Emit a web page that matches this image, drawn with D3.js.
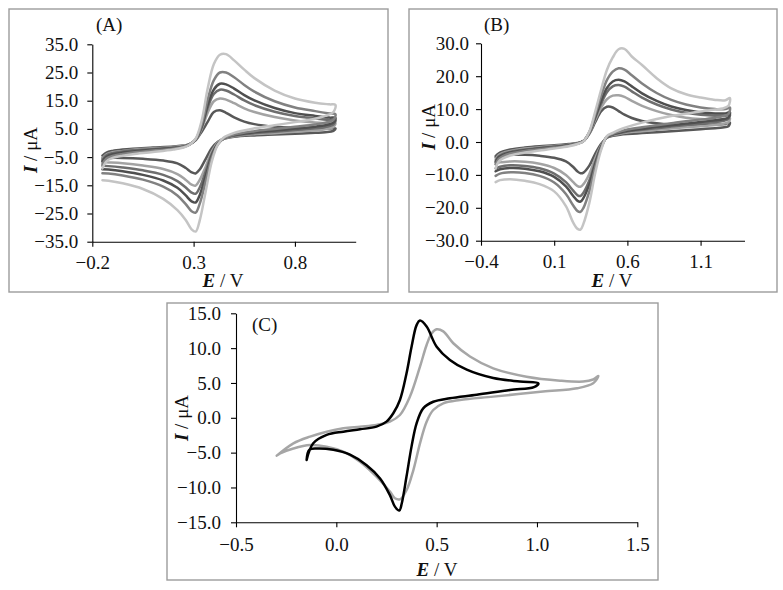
<!DOCTYPE html>
<html>
<head>
<meta charset="utf-8">
<script src="https://cdn.jsdelivr.net/npm/d3@7"></script>
<style>
  html, body { margin: 0; padding: 0; background: #fff; }
  svg { display: block; }
  text { font-family: "Liberation Serif", "Times New Roman", serif; fill: #111; }
</style>
</head>
<body>
<svg id="chart" width="783" height="590"></svg>
<script>
// ---------------- Panel A data ----------------
const aXTicks = [-0.2, 0.3, 0.8];
const aYTicks = [-35, -25, -15, -5, 5, 15, 25, 35];
const aE = [-0.15,-0.13,-0.1,-0.05,0.0,0.1,0.2,0.25,0.28,0.31,0.34,0.37,0.4,0.43,0.46,0.5,0.55,0.6,0.7,0.8,0.9,0.97,1.0,
            0.99,0.95,0.9,0.8,0.7,0.6,0.5,0.45,0.42,0.39,0.36,0.33,0.31,0.29,0.26,0.22,0.15,0.05,-0.05,-0.12,-0.15];
const aI1 = [-9.0,-6.5,-5.3,-4.5,-4.0,-3.2,-2.3,-1.6,-0.6,1.5,8.0,19.5,28.0,31.3,31.5,29.3,26.0,23.0,18.6,15.8,14.3,13.7,13.5,
             11.0,9.6,8.6,7.4,6.3,5.2,3.6,2.0,-0.5,-6.5,-17.0,-27.5,-31.4,-30.6,-27.2,-23.8,-19.8,-16.3,-14.3,-13.4,-13.2];
const aI2 = [-7.5,-5.5,-4.6,-3.9,-3.4,-2.7,-2.0,-1.4,-0.6,1.3,6.6,15.6,22.3,25.0,25.0,23.3,20.6,18.2,14.8,12.6,11.3,10.5,10.2,
             8.2,7.2,6.6,5.8,5.0,4.2,3.0,1.7,-0.5,-5.2,-13.5,-21.6,-24.7,-24.2,-21.6,-18.6,-15.5,-13.0,-11.5,-10.8,-10.7];
const aI3 = [-6.5,-4.9,-4.0,-3.4,-3.0,-2.4,-1.8,-1.3,-0.5,1.2,5.9,13.6,19.0,21.0,20.8,19.3,17.0,15.1,12.4,10.6,9.6,9.0,8.9,
             7.2,6.3,5.8,5.1,4.4,3.8,2.8,1.7,-0.3,-4.5,-11.6,-18.5,-21.1,-20.7,-18.5,-15.9,-13.3,-11.3,-10.0,-9.4,-9.3];
const aI4 = [-6.0,-4.4,-3.6,-3.0,-2.6,-2.1,-1.6,-1.2,-0.5,1.1,5.5,12.6,17.4,18.9,18.6,17.2,15.1,13.4,11.1,9.6,8.7,8.2,8.1,
             6.5,5.7,5.2,4.6,4.0,3.5,2.6,1.6,-0.1,-3.8,-10.0,-15.8,-18.0,-17.6,-15.7,-13.5,-11.3,-9.7,-8.7,-8.2,-8.1];
const aI5 = [-5.5,-4.0,-3.3,-2.8,-2.4,-1.9,-1.4,-1.0,-0.4,1.0,5.0,10.8,14.8,15.8,15.4,14.1,12.3,11.0,9.2,8.0,7.3,7.0,7.0,
             5.7,4.9,4.5,4.0,3.5,3.1,2.4,1.6,0.2,-3.0,-8.3,-13.1,-15.1,-14.8,-13.0,-11.0,-9.2,-8.0,-7.2,-6.9,-6.8];
const aI6 = [-4.5,-3.4,-2.8,-2.3,-2.0,-1.6,-1.2,-0.9,-0.4,1.0,4.0,7.6,11.0,11.6,10.7,9.1,7.6,6.7,5.8,5.4,5.2,5.1,5.2,
             4.3,3.8,3.6,3.3,3.0,2.7,2.2,1.5,0.4,-1.8,-5.6,-9.4,-10.8,-10.4,-8.8,-7.2,-6.2,-5.6,-5.3,-5.3,-5.4];

// ---------------- Panel B data ----------------
const bXTicks = [-0.4, 0.1, 0.6, 1.1];
const bYTicks = [-30, -20, -10, 0, 10, 20, 30];
const bE = [-0.3,-0.28,-0.25,-0.2,-0.1,0.0,0.1,0.2,0.26,0.3,0.34,0.38,0.42,0.46,0.5,0.54,0.58,0.63,0.7,0.8,0.9,1.0,1.1,1.2,1.27,1.3,
            1.29,1.25,1.2,1.1,1.0,0.9,0.8,0.7,0.6,0.55,0.5,0.46,0.42,0.38,0.34,0.3,0.28,0.26,0.23,0.18,0.1,0.0,-0.1,-0.2,-0.27,-0.3];
const bI1 = [-8.0,-6.0,-5.0,-4.1,-3.2,-2.6,-2.0,-1.3,-0.6,0.2,3.2,9.2,15.8,21.9,25.7,28.2,28.3,26.0,23.4,19.4,16.3,14.5,13.5,12.8,12.7,13.4,
             11.0,10.2,9.9,9.3,8.6,7.9,7.0,5.9,4.6,3.8,2.8,1.8,-2.5,-9.5,-18.5,-24.8,-26.6,-26.4,-24.5,-19.5,-15.0,-12.8,-11.8,-11.3,-11.6,-12.2];
const bI2 = [-6.8,-5.2,-4.3,-3.5,-2.7,-2.2,-1.7,-1.1,-0.5,0.3,3.0,8.3,14.0,18.8,21.4,22.4,22.0,20.3,17.8,14.9,12.8,11.4,10.5,10.0,10.0,10.5,
             8.5,7.8,7.4,6.8,6.3,5.7,5.1,4.5,3.8,3.2,2.5,1.6,-2.0,-7.8,-15.0,-20.0,-21.2,-21.0,-19.3,-15.8,-12.3,-10.3,-9.4,-9.2,-9.6,-10.3];
const bI3 = [-6.2,-4.7,-3.9,-3.2,-2.5,-2.0,-1.5,-1.0,-0.5,0.3,2.9,7.6,12.4,16.4,18.4,18.9,18.4,16.9,14.8,12.5,10.8,9.7,9.0,8.7,8.7,9.1,
             7.5,6.9,6.6,6.1,5.6,5.1,4.6,4.0,3.4,2.9,2.3,1.5,-1.6,-6.8,-12.9,-17.0,-18.1,-17.9,-16.4,-13.5,-10.6,-8.9,-8.1,-7.9,-8.3,-8.9];
const bI4 = [-5.8,-4.4,-3.6,-3.0,-2.3,-1.8,-1.4,-0.9,-0.4,0.3,2.8,7.3,11.6,15.1,16.9,17.3,16.8,15.4,13.5,11.4,9.9,8.9,8.3,8.0,8.0,8.4,
             7.0,6.4,6.1,5.6,5.2,4.7,4.2,3.7,3.2,2.7,2.2,1.5,-1.4,-6.2,-11.7,-15.4,-16.4,-16.2,-14.8,-12.2,-9.6,-8.0,-7.3,-7.1,-7.5,-8.0];
const bI5 = [-5.2,-4.0,-3.3,-2.7,-2.0,-1.6,-1.2,-0.8,-0.4,0.3,2.7,6.7,10.4,13.0,14.1,14.2,13.7,12.5,11.0,9.4,8.2,7.4,7.0,6.8,6.9,7.2,
             6.0,5.5,5.2,4.8,4.5,4.1,3.7,3.3,2.9,2.5,2.1,1.4,-1.1,-5.0,-9.7,-12.8,-13.6,-13.4,-12.2,-10.0,-7.9,-6.6,-6.0,-5.9,-6.2,-6.7];
const bI6 = [-4.3,-3.5,-2.9,-2.3,-1.7,-1.3,-1.0,-0.6,-0.3,0.3,2.5,6.0,9.3,10.7,10.5,9.4,8.3,7.3,6.4,5.7,5.3,5.1,5.1,5.3,5.5,5.9,
             4.8,4.4,4.2,3.9,3.6,3.3,3.0,2.7,2.4,2.2,1.9,1.3,-0.6,-3.6,-7.2,-9.3,-9.5,-9.0,-7.6,-5.9,-4.8,-4.2,-3.9,-3.9,-4.2,-4.6];

// gray shades of the six scan-rate curves (A and B)
const abColors = ["#c4c4c4", "#818181", "#4f4f4f", "#6e6e6e", "#a3a3a3", "#585858"];

// ---------------- Panel C data ----------------
const cXTicks = [-0.5, 0.0, 0.5, 1.0, 1.5];
const cYTicks = [-15, -10, -5, 0, 5, 10, 15];
const cBlackE = [-0.148,-0.115,-0.048,0.035,0.118,0.2,0.25,0.284,0.317,0.35,0.375,0.4,0.417,0.45,0.5,0.566,0.65,0.782,0.915,1.007,
                 0.985,0.865,0.7,0.566,0.483,0.433,0.4,0.375,0.35,0.326,0.314,0.292,0.267,0.218,0.151,0.068,-0.015,-0.098,-0.135,-0.148];
const cBlackI = [-6.05,-3.66,-2.46,-1.99,-1.65,-1.27,-0.55,0.65,2.56,6.4,10.2,13.3,13.95,13.1,10.2,8.3,6.9,5.7,5.2,4.95,
                 4.4,4.0,3.3,2.8,2.3,1.36,-0.8,-4.1,-8.4,-12.3,-13.3,-12.75,-11.1,-8.7,-6.8,-5.3,-4.6,-4.4,-4.6,-6.05];
const cGrayE = [-0.297,-0.214,-0.131,-0.048,0.035,0.118,0.2,0.267,0.317,0.367,0.417,0.45,0.475,0.5,0.533,0.583,0.666,0.782,0.948,1.115,1.23,1.28,1.306,
                1.28,1.2,1.03,0.782,0.616,0.533,0.483,0.45,0.417,0.384,0.35,0.317,0.292,0.267,0.2,0.118,0.035,-0.048,-0.131,-0.214,-0.28,-0.297];
const cGrayI = [-5.43,-3.66,-2.7,-1.99,-1.5,-1.27,-1.03,-0.55,0.4,3.04,7.34,10.45,12.1,12.7,12.4,10.7,8.8,7.1,5.9,5.33,5.2,5.5,6.0,
                4.95,4.23,3.76,3.04,2.56,2.08,1.12,-0.55,-3.66,-7.5,-10.4,-11.7,-11.55,-10.6,-8.45,-6.3,-4.86,-4.14,-3.9,-4.4,-5.1,-5.43];
const cColors = ["#a6a6a6", "#000000"];

// ---------------- drawing ----------------
const svg = d3.select("#chart");
const fmt = v => d3.format(".1f")(v).replace("-", "\u2212");
const FS = 19;
const FONT = '"Liberation Serif", "Times New Roman", serif';

function panel(cfg) {
  const g = svg.append("g");
  g.append("rect")
    .attr("x", cfg.frame[0]).attr("y", cfg.frame[1])
    .attr("width", cfg.frame[2]).attr("height", cfg.frame[3])
    .attr("fill", "#fff").attr("stroke", "#9c9c9c").attr("stroke-width", 1.4);

  const x = d3.scaleLinear().domain(cfg.xDomain).range(cfg.xRange);
  const y = d3.scaleLinear().domain(cfg.yDomain).range(cfg.yRange);

  const line = d3.line().x(d => x(d[0])).y(d => y(d[1])).curve(d3.curveCatmullRom.alpha(0.5));
  cfg.series.forEach(s => {
    const pts = s.E.map((e, i) => [e, s.I[i]]);
    g.append("path").attr("d", line(pts))
      .attr("fill", "none").attr("stroke", s.color)
      .attr("stroke-width", cfg.sw).attr("stroke-linejoin", "round").attr("stroke-linecap", "round");
  });

  const yAxis = d3.axisLeft(y).tickValues(cfg.yTicks).tickFormat(fmt).tickSize(5).tickSizeOuter(0).tickPadding(cfg.yPad);
  const xAxis = d3.axisBottom(x).tickValues(cfg.xTicks).tickFormat(fmt).tickSize(5).tickSizeOuter(0).tickPadding(cfg.xPad);
  const ya = g.append("g").attr("transform", `translate(${cfg.xRange[0]},0)`).call(yAxis);
  const xa = g.append("g").attr("transform", `translate(0,${cfg.yRange[0]})`).call(xAxis);
  [ya, xa].forEach(a => {
    a.attr("font-family", FONT).attr("font-size", FS);
    a.select(".domain").attr("stroke", "#000").attr("stroke-width", 1.1);
    a.selectAll(".tick line").attr("stroke", "#000").attr("stroke-width", 1.1);
    a.selectAll(".tick text").attr("font-size", FS).attr("font-family", FONT).attr("fill", "#111");
  });

  g.append("text").attr("x", cfg.tag[0]).attr("y", cfg.tag[1]).attr("font-size", FS).text(cfg.tag[2]);

  const xt = g.append("text").attr("x", cfg.xTitle[0]).attr("y", cfg.xTitle[1])
    .attr("text-anchor", "middle").attr("font-size", FS);
  xt.append("tspan").attr("font-weight", "bold").attr("font-style", "italic").text("E");
  xt.append("tspan").text(" / V");
  const yt = g.append("text")
    .attr("transform", `translate(${cfg.yTitle[0]},${cfg.yTitle[1]}) rotate(-90)`)
    .attr("text-anchor", "middle").attr("font-size", FS);
  yt.append("tspan").attr("font-weight", "bold").attr("font-style", "italic").text("I");
  yt.append("tspan").text(" / \u03bcA");
}

const aSeries = [aI1, aI2, aI3, aI4, aI5, aI6].map((I, k) => ({E: aE, I: I, color: abColors[k]}));
const bSeries = [bI1, bI2, bI3, bI4, bI5, bI6].map((I, k) => ({E: bE, I: I, color: abColors[k]}));

panel({
  frame: [9, 9, 379, 283],
  xDomain: [-0.2, 1.1], xRange: [92.3, 355.7],
  yDomain: [-35, 35], yRange: [241.7, 44.3],
  xTicks: aXTicks, yTicks: aYTicks, xPad: 9, yPad: 9,
  series: aSeries.slice().reverse(), sw: 2.5,
  tag: [96, 31, "(A)"], xTitle: [223, 287], yTitle: [37, 150]
});

panel({
  frame: [409, 9, 368, 283],
  xDomain: [-0.4, 1.4], xRange: [481, 744.5],
  yDomain: [-30, 30], yRange: [240.7, 43.3],
  xTicks: bXTicks, yTicks: bYTicks, xPad: 9, yPad: 7,
  series: bSeries.slice().reverse(), sw: 2.5,
  tag: [484, 31, "(B)"], xTitle: [612, 287], yTitle: [435, 127]
});

panel({
  frame: [167, 303, 491, 277],
  xDomain: [-0.5, 1.5], xRange: [236, 637.3],
  yDomain: [-15, 15], yRange: [522.3, 313.3],
  xTicks: cXTicks, yTicks: cYTicks, xPad: 10, yPad: 10,
  series: [{E: cGrayE, I: cGrayI, color: cColors[0]}, {E: cBlackE, I: cBlackI, color: cColors[1]}], sw: 2.5,
  tag: [252, 331, "(C)"], xTitle: [437, 576], yTitle: [188, 418]
});
</script>
</body>
</html>
